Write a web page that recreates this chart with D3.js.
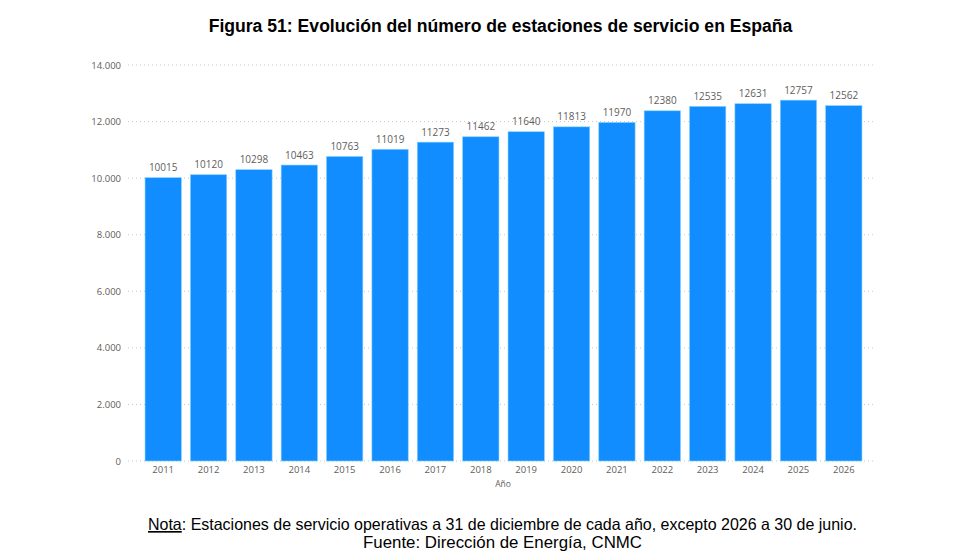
<!DOCTYPE html>
<html>
<head>
  <meta charset="utf-8">
  <title>Estaciones de servicio</title>
  <style>
    body {
      margin: 0;
      padding: 0;
      background: #fff;
    }
  </style>
</head>
<body>
  <script src="https://d3js.org/d3.v7.min.js"></script>
  <div id="chart"></div>
  <script>
    // data
    var years = ["2011", "2012", "2013", "2014", "2015", "2016", "2017", "2018",
      "2019", "2020", "2021", "2022", "2023", "2024", "2025", "2026"]
    var stations = [10015, 10120, 10298, 10463, 10763, 11019, 11273, 11462,
      11640, 11813, 11970, 12380, 12535, 12631, 12757, 12562]
    var yTicks = [0, 2000, 4000, 6000, 8000, 10000, 12000, 14000]

    var width = 980, height = 560
    var svg = d3.select("#chart").append("svg")
      .attr("width", width)
      .attr("height", height)

    var x = d3.scaleBand()
      .domain(years)
      .range([140.5, 866.5])
      .paddingInner(0.2)
      .paddingOuter(0.1)

    var y = d3.scaleLinear()
      .domain([0, 14000])
      .range([461, 65])

    var fmt = function (d) { return d3.format(",")(d).replace(/,/g, ".") }
    var labelFont = "'Open Sans', sans-serif"
    var docFont = "'Liberation Sans', Arial, sans-serif"

    // gridlines
    svg.append("g")
      .selectAll("line")
      .data(yTicks)
      .join("line")
      .attr("x1", 128)
      .attr("x2", 876)
      .attr("y1", function (d) { return y(d) })
      .attr("y2", function (d) { return y(d) })
      .attr("stroke", "#c8c8c8")
      .attr("stroke-width", 1)
      .attr("stroke-dasharray", "1,3")

    // y axis labels
    var yAxis = svg.append("g")
      .attr("transform", "translate(121,0)")
      .call(d3.axisLeft(y).tickValues(yTicks).tickFormat(fmt).tickSize(0).tickPadding(0))
    yAxis.select(".domain").remove()
    yAxis.selectAll("text")
      .attr("fill", "#605e5c")
      .style("font-family", labelFont)
      .style("font-size", "9.5px")

    // bars
    svg.append("g")
      .selectAll("rect")
      .data(stations)
      .join("rect")
      .attr("x", function (d, i) { return x(years[i]) })
      .attr("y", function (d) { return y(d) })
      .attr("width", x.bandwidth())
      .attr("height", function (d) { return y(0) - y(d) })
      .attr("fill", "#118dff")
      .attr("stroke", "#7fd0ff")
      .attr("stroke-width", 0.6)

    // value labels
    svg.append("g")
      .selectAll("text")
      .data(stations)
      .join("text")
      .attr("x", function (d, i) { return x(years[i]) + x.bandwidth() / 2 })
      .attr("y", function (d) { return y(d) - 6.5 })
      .attr("text-anchor", "middle")
      .attr("fill", "#605e5c")
      .style("font-family", labelFont)
      .style("font-size", "10px")
      .text(function (d) { return d })

    // x axis labels
    var xAxis = svg.append("g")
      .attr("transform", "translate(0," + 464 + ")")
      .call(d3.axisBottom(x).tickSize(0).tickPadding(0))
    xAxis.select(".domain").remove()
    xAxis.selectAll("text")
      .attr("fill", "#605e5c")
      .attr("dy", "0.9em")
      .style("font-family", labelFont)
      .style("font-size", "9.5px")

    svg.append("text")
      .attr("x", 503)
      .attr("y", 487)
      .attr("text-anchor", "middle")
      .attr("fill", "#605e5c")
      .style("font-family", labelFont)
      .style("font-size", "8.5px")
      .text("Año")

    // title
    svg.append("text")
      .attr("x", 500.5)
      .attr("y", 32)
      .attr("text-anchor", "middle")
      .attr("fill", "#000")
      .style("font-family", docFont)
      .style("font-weight", "bold")
      .style("font-size", "17.6px")
      .text("Figura 51: Evolución del número de estaciones de servicio en España")

    // note and source (condensed face in the original)
    var note = svg.append("text")
      .attr("x", 502.5)
      .attr("y", 530)
      .attr("text-anchor", "middle")
      .attr("fill", "#000")
      .attr("textLength", 709)
      .attr("lengthAdjust", "spacingAndGlyphs")
      .style("font-family", docFont)
      .style("font-size", "16.5px")
    note.append("tspan")
      .attr("text-decoration", "underline")
      .text("Nota")
    note.append("tspan")
      .text(": Estaciones de servicio operativas a 31 de diciembre de cada año, excepto 2026 a 30 de junio.")

    svg.append("text")
      .attr("x", 502.5)
      .attr("y", 548)
      .attr("text-anchor", "middle")
      .attr("fill", "#000")
      .attr("textLength", 279)
      .attr("lengthAdjust", "spacingAndGlyphs")
      .style("font-family", docFont)
      .style("font-size", "16.5px")
      .text("Fuente: Dirección de Energía, CNMC")
  </script>
</body>
</html>
